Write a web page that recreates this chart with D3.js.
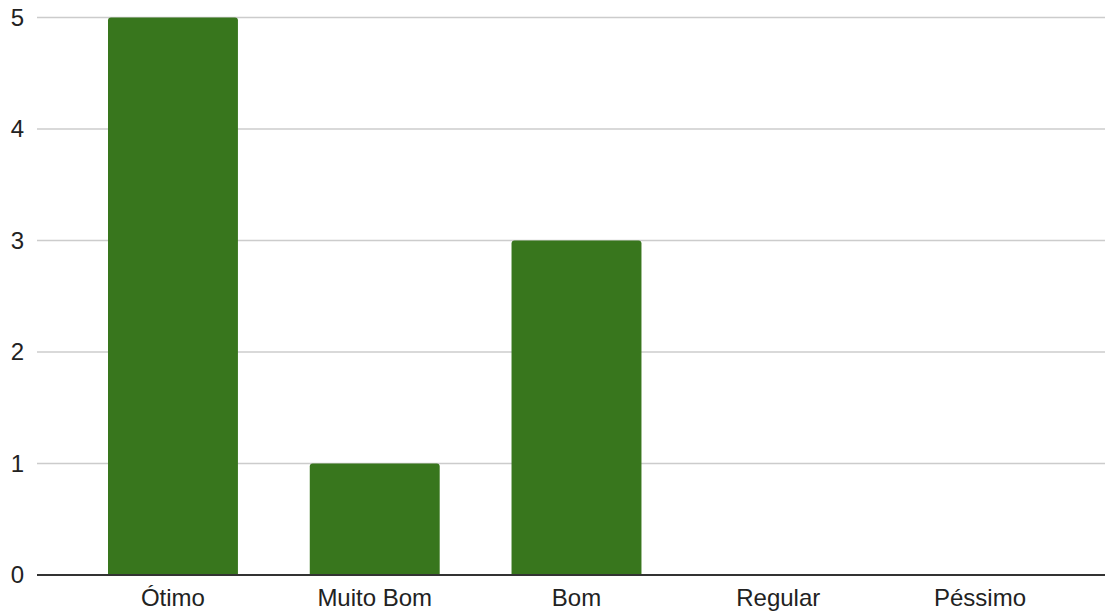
<!DOCTYPE html>
<html><head><meta charset="utf-8">
<script src="https://cdn.jsdelivr.net/npm/d3@7"></script>
<style>html,body{margin:0;padding:0;background:#fff;}svg{display:block;}</style>
</head><body>
<svg id="chart" width="1105" height="612"></svg>
<script>
const categories = ["Ótimo", "Muito Bom", "Bom", "Regular", "Péssimo"];
const values = [5, 1, 3, 0, 0];
const yTicks = [0, 1, 2, 3, 4, 5];

const svg = d3.select("#chart");
const font = "'Liberation Sans', Arial, sans-serif";
const gridLeft = 37, gridRight = 1105;

const x = d3.scaleBand().domain(categories).range([108, 1045]).paddingInner(0.356).paddingOuter(0);
const y = d3.scaleLinear().domain([0, 5]).range([575, 17.5]);

// gridlines
svg.append("g").selectAll("line").data(yTicks.filter(d => d !== 0)).join("line")
  .attr("x1", gridLeft).attr("x2", gridRight)
  .attr("y1", d => y(d)).attr("y2", d => y(d))
  .attr("stroke", "#cccccc").attr("stroke-width", 1.5);

// y tick labels
svg.append("g").selectAll("text").data(yTicks).join("text")
  .attr("x", 24).attr("y", d => y(d)).attr("dy", "0.35em")
  .attr("text-anchor", "end")
  .attr("font-family", font).attr("font-size", 24).attr("fill", "#222")
  .text(d => d);

// bars with rounded top corners
const r = 3;
svg.append("g").selectAll("path").data(categories.map((c, i) => ({c, v: values[i]})).filter(d => d.v > 0)).join("path")
  .attr("fill", "#38761d")
  .attr("d", d => {
    const x0 = x(d.c), w = x.bandwidth(), y0 = y(d.v), y1 = y(0);
    return `M${x0},${y1}V${y0 + r}Q${x0},${y0} ${x0 + r},${y0}H${x0 + w - r}Q${x0 + w},${y0} ${x0 + w},${y0 + r}V${y1}Z`;
  });

// baseline
svg.append("line").attr("x1", gridLeft).attr("x2", gridRight)
  .attr("y1", y(0)).attr("y2", y(0))
  .attr("stroke", "#333333").attr("stroke-width", 2);

// x labels
svg.append("g").selectAll("text").data(categories).join("text")
  .attr("x", d => x(d) + x.bandwidth() / 2).attr("y", 606)
  .attr("text-anchor", "middle")
  .attr("font-family", font).attr("font-size", 24).attr("fill", "#222")
  .text(d => d);
</script>
</body></html>
